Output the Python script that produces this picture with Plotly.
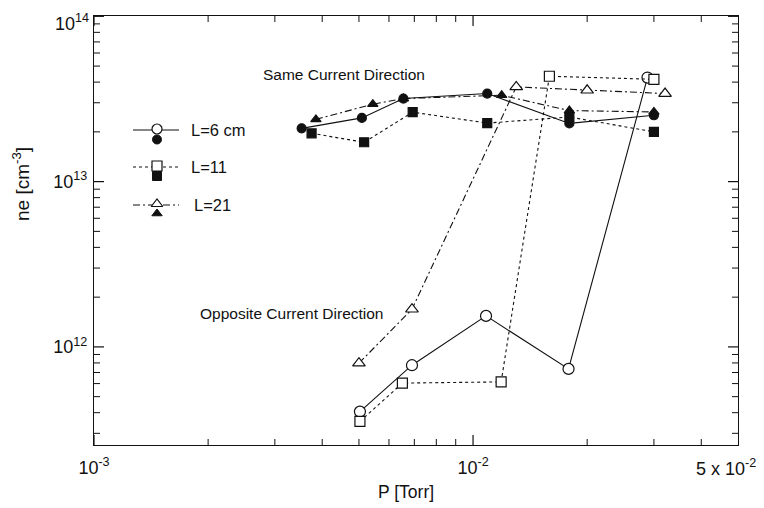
import plotly.graph_objects as go
import math

# ---------------- data ----------------
# Same current direction (filled markers)
same_L6_P  = [3.53e-3, 5.09e-3, 6.55e-3, 1.09e-2, 1.795e-2, 3.0e-2]
same_L6_ne = [2.10e13, 2.43e13, 3.18e13, 3.41e13, 2.25e13, 2.52e13]
same_L11_P  = [3.75e-3, 5.16e-3, 6.93e-3, 1.09e-2, 1.795e-2, 3.0e-2]
same_L11_ne = [1.96e13, 1.73e13, 2.63e13, 2.26e13, 2.46e13, 2.00e13]
same_L21_P  = [3.85e-3, 5.44e-3, 6.55e-3, 1.19e-2, 1.795e-2, 3.0e-2]
same_L21_ne = [2.38e13, 2.94e13, 3.18e13, 3.33e13, 2.69e13, 2.64e13]

# Opposite current direction (open markers)
opp_L6_P  = [5.03e-3, 6.90e-3, 1.082e-2, 1.786e-2, 2.885e-2]
opp_L6_ne = [4.06e11, 7.75e11, 1.54e12, 7.36e11, 4.26e13]
opp_L11_P  = [5.03e-3, 6.51e-3, 1.186e-2, 1.59e-2, 3.0e-2]
opp_L11_ne = [3.54e11, 6.04e11, 6.14e11, 4.34e13, 4.16e13]
opp_L21_P  = [5.0e-3, 6.90e-3, 1.30e-2, 2.0e-2, 3.21e-2]
opp_L21_ne = [7.97e11, 1.69e12, 3.74e13, 3.57e13, 3.41e13]

legend_labels = ["L=6 cm", "L=11", "L=21"]
x_tick_vals = [1e-3, 1e-2]
x_tick_text = ["10<sup>-3</sup>", "10<sup>-2</sup>"]
y_tick_vals = [1e12, 1e13, 1e14]
y_tick_text = ["10<sup>12</sup>", "10<sup>13</sup>", ""]
y_top_label = "10<sup>14</sup>"
minor_x = [k * 1e-3 for k in range(2, 10)] + [k * 1e-2 for k in range(2, 5)]
minor_y = [k * 1e11 for k in range(3, 10)] + [k * 1e12 for k in range(2, 10)] + [k * 1e13 for k in range(2, 10)]

# ---------------- styling ----------------
OFF = 8                      # page body margin
WIN_W, WIN_H = 764, 508
W, H = WIN_W - OFF, WIN_H - OFF
FONT = "Liberation Sans, Arial, Helvetica, sans-serif"
BLACK = "#111111"
L_LEFT, L_RIGHT, L_TOP, L_BOT = 94, 738, 16, 445   # screen pixels
PW, PH = L_RIGHT - L_LEFT, L_BOT - L_TOP
XR = [-3.0, math.log10(0.05)]
YR = [math.log10(2.55e11), 14.002]

DASH = {"L6": "solid", "L11": "dot", "L21": "7px,3px,2px,3px"}
SYM = {"L6": "circle", "L11": "square", "L21": "triangle-up"}

fig = go.Figure()

# ---- tick marks (inside, all four sides), drawn through the log axes ----
def ticks(xvals, yvals, length, width):
    dy = length / PH * (YR[1] - YR[0])
    dx = length / PW * (XR[1] - XR[0])
    xs, ys = [], []
    for v in xvals:
        for y0, y1 in ((YR[0], YR[0] + dy), (YR[1], YR[1] - dy)):
            xs += [v, v, None]
            ys += [10 ** y0, 10 ** y1, None]
    for v in yvals:
        for x0, x1 in ((XR[0], XR[0] + dx), (XR[1], XR[1] - dx)):
            xs += [10 ** x0, 10 ** x1, None]
            ys += [v, v, None]
    fig.add_trace(go.Scatter(x=xs, y=ys, mode="lines",
                             line=dict(color=BLACK, width=width),
                             hoverinfo="skip", showlegend=False, cliponaxis=False,
                             xaxis="x", yaxis="y"))

ticks(minor_x, minor_y, 6, 1.0)
ticks(x_tick_vals, y_tick_vals, 10, 1.2)

def add_series(P, ne, key, filled):
    size = 9 if filled else {"L6": 11, "L11": 10, "L21": 11}[key]
    fig.add_trace(go.Scatter(
        x=P, y=ne, mode="lines+markers",
        line=dict(color=BLACK, width=1.1, dash=DASH[key]),
        marker=dict(symbol=SYM[key], size=size, color=BLACK if filled else "white",
                    line=dict(color=BLACK, width=1.2)),
        showlegend=False, xaxis="x", yaxis="y"))

add_series(same_L6_P, same_L6_ne, "L6", True)
add_series(same_L11_P, same_L11_ne, "L11", True)
add_series(same_L21_P, same_L21_ne, "L21", True)
add_series(opp_L6_P, opp_L6_ne, "L6", False)
add_series(opp_L11_P, opp_L11_ne, "L11", False)
add_series(opp_L21_P, opp_L21_ne, "L21", False)

# ---- hand-drawn style legend in screen-pixel coordinates (overlay axes) ----
leg_rows = [("L6", 130, 139.5, 189), ("L11", 167, 176, 189), ("L21", 205, 213.5, 192)]
for (key, yline, yfill, xtext), label in zip(leg_rows, legend_labels):
    fig.add_trace(go.Scatter(x=[133, 179], y=[yline, yline], mode="lines",
                             line=dict(color=BLACK, width=1.1, dash=DASH[key]),
                             showlegend=False, xaxis="x2", yaxis="y2"))
    fig.add_trace(go.Scatter(x=[157], y=[yfill], mode="markers",
                             marker=dict(symbol=SYM[key], size=9, color=BLACK,
                                         line=dict(color=BLACK, width=1)),
                             showlegend=False, xaxis="x2", yaxis="y2"))
    fig.add_trace(go.Scatter(x=[157], y=[yline - 1], mode="markers",
                             marker=dict(symbol=SYM[key], size=10, color="white",
                                         line=dict(color=BLACK, width=1.2)),
                             showlegend=False, xaxis="x2", yaxis="y2"))
    fig.add_annotation(x=xtext, y=yline, xref="x2", yref="y2", text=label,
                       showarrow=False, xanchor="left", yanchor="middle",
                       font=dict(family=FONT, size=16.5, color=BLACK))

txt = dict(showarrow=False, xref="x2", yref="y2", xanchor="center", yanchor="middle")
fig.add_annotation(x=343.5, y=74, text="Same Current Direction",
                   font=dict(family=FONT, size=15.5, color=BLACK), **txt)
fig.add_annotation(x=292, y=313, text="Opposite Current Direction",
                   font=dict(family=FONT, size=15.5, color=BLACK), **txt)
fig.add_annotation(x=726, y=467, text="5 x 10<sup>-2</sup>",
                   font=dict(family=FONT, size=18, color=BLACK), **txt)
fig.add_annotation(x=406, y=492, text="P [Torr]",
                   font=dict(family=FONT, size=17.5, color=BLACK), **txt)
fig.add_annotation(x=21, y=184, text="ne [cm<sup>-3</sup>]", textangle=-90,
                   font=dict(family=FONT, size=19, color=BLACK), **txt)
fig.add_annotation(x=91, y=9, text=y_top_label, showarrow=False, xref="x2", yref="y2",
                   xanchor="right", yanchor="top",
                   font=dict(family=FONT, size=18, color=BLACK))

axis_common = dict(showgrid=False, zeroline=False, showline=True, linecolor=BLACK, linewidth=1.3,
                   ticks="", mirror=True, automargin=False, ticklabeloverflow="allow",
                   tickfont=dict(family=FONT, size=18, color=BLACK))

fig.update_layout(
    width=W, height=H, margin=dict(l=0, r=0, t=0, b=0, autoexpand=False),
    paper_bgcolor="white", plot_bgcolor="rgba(0,0,0,0)",
    font=dict(family=FONT, color=BLACK),
    xaxis=dict(type="log", range=XR,
               domain=[(L_LEFT - OFF) / W, (L_RIGHT - OFF) / W],
               tickmode="array", tickvals=x_tick_vals, ticktext=x_tick_text,
               ticklabelstandoff=6,
               anchor="y", **axis_common),
    yaxis=dict(type="log", range=YR,
               domain=[1 - (L_BOT - OFF) / H, 1 - (L_TOP - OFF) / H],
               tickmode="array", tickvals=y_tick_vals, ticktext=y_tick_text,
               ticklabelstandoff=2,
               anchor="x", **axis_common),
    xaxis2=dict(domain=[0, 1], range=[OFF, WIN_W], visible=False, anchor="y2", fixedrange=True),
    yaxis2=dict(domain=[0, 1], range=[WIN_H, OFF], visible=False, anchor="x2", fixedrange=True),
)

fig.write_html("out.html")
